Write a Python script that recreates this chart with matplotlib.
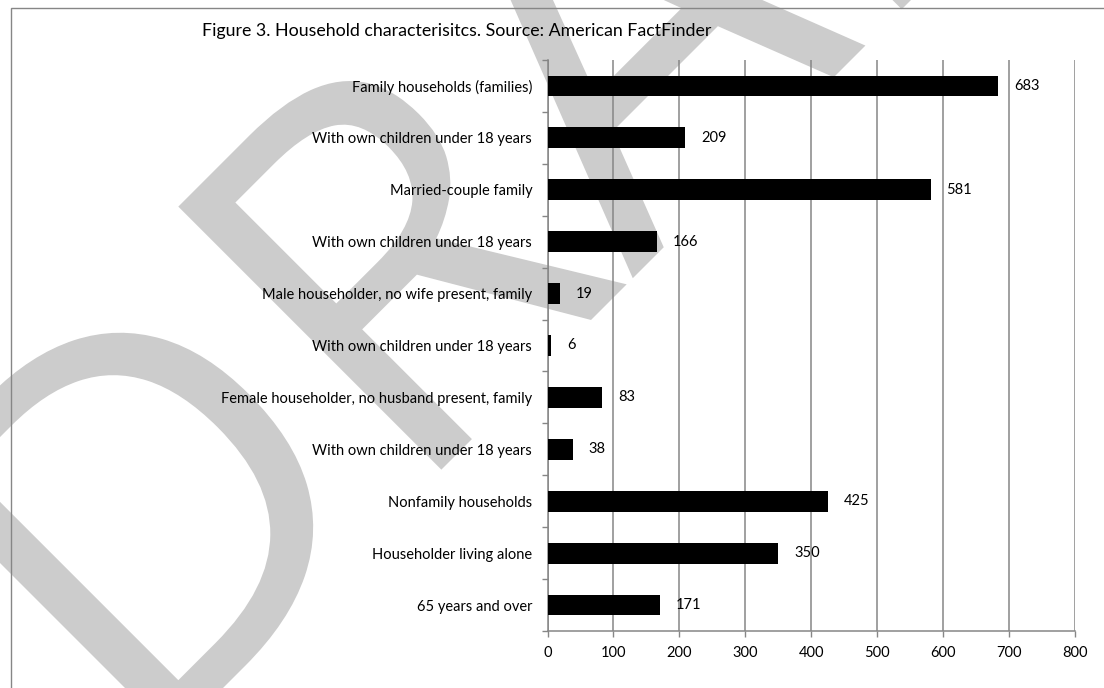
import numpy as np
import matplotlib
matplotlib.use("Agg")
import matplotlib.pyplot as plt
from matplotlib.patches import Rectangle, PathPatch
from matplotlib.path import Path
from matplotlib.textpath import TextPath
from matplotlib.font_manager import FontProperties
from matplotlib.transforms import Affine2D

# Household characteristics (American FactFinder)
categories = [
    "Family households (families)",
    "With own children under 18 years",
    "Married-couple family",
    "With own children under 18 years",
    "Male householder, no wife present, family",
    "With own children under 18 years",
    "Female householder, no husband present, family",
    "With own children under 18 years",
    "Nonfamily households",
    "Householder living alone",
    "65 years and over",
]
counts = [683, 209, 581, 166, 19, 6, 83, 38, 425, 350, 171]
x_ticks = [0, 100, 200, 300, 400, 500, 600, 700, 800]
title = "Figure 3. Household characterisitcs. Source: American FactFinder"

W, H = 1104, 688
AXIS_GRAY = "#868686"
plt.rcParams["font.family"] = ["Lato", "DejaVu Sans"]

fig = plt.figure(figsize=(W / 100, H / 100), dpi=100)

# "DRAFT" watermark as a glyph path, rotated 45 degrees, placed in pixel units
wm_font = FontProperties(family="Open Sans")
wm_path = TextPath((0, 0), "DRAFT", size=100, prop=wm_font)
real = wm_path.codes != Path.CLOSEPOLY
d_left = wm_path.vertices[real, 0].min()
d_path = TextPath((0, 0), "D", size=100, prop=wm_font)
cap = d_path.vertices[d_path.codes != Path.CLOSEPOLY, 1].max()
scale = 372 / cap
wm_tr = (Affine2D().translate(-d_left, 0).scale(scale)
         .rotate_deg(45).translate(174, H - 737))
fig.add_artist(PathPatch(wm_path, transform=wm_tr, facecolor="#cccccc",
                         edgecolor="none", zorder=-5))

# chart-area frame
fig.patches.append(Rectangle((11 / W, -0.2), 1.2, 1.2 - 8 / H,
                             transform=fig.transFigure, fill=False,
                             edgecolor=AXIS_GRAY, lw=1.0, zorder=1))

fig.text(457 / W, 1 - 31 / H, title, ha="center", va="center", fontsize=12.75)

ax = fig.add_axes([547.5 / W, (H - 631) / H, (1075 - 547.5) / W, (631 - 60) / H])
ax.set_facecolor("none")

pos = np.arange(len(categories))
ax.barh(pos, counts, height=0.4, color="black", zorder=3)
for p, v in zip(pos, counts):
    ax.annotate(str(v), (v, p), xytext=(11.5, 0), textcoords="offset points",
                va="center", ha="left", fontsize=10.5)

ax.set_xlim(0, 800)
ax.set_ylim(len(categories) - 0.5, -0.5)

ax.set_xticks(x_ticks)
ax.set_xticklabels([str(t) for t in x_ticks], fontsize=10.5)
ax.set_yticks(np.arange(len(categories) + 1) - 0.5)
ax.set_yticklabels([])
ax.set_yticks(pos, minor=True)
ax.set_yticklabels(categories, minor=True, fontsize=10.5)

ax.tick_params(axis="x", direction="out", length=4, width=1, color=AXIS_GRAY, pad=7)
ax.tick_params(axis="y", which="major", direction="out", length=4, width=1, color=AXIS_GRAY)
ax.tick_params(axis="y", which="minor", length=0, pad=11)

ax.xaxis.grid(True, color=AXIS_GRAY, lw=1.1, zorder=1)
ax.set_axisbelow(True)
for side in ("top", "right"):
    ax.spines[side].set_visible(False)
for side in ("left", "bottom"):
    ax.spines[side].set_color(AXIS_GRAY)
    ax.spines[side].set_linewidth(1.1)

fig.savefig("out.png", dpi=100)
